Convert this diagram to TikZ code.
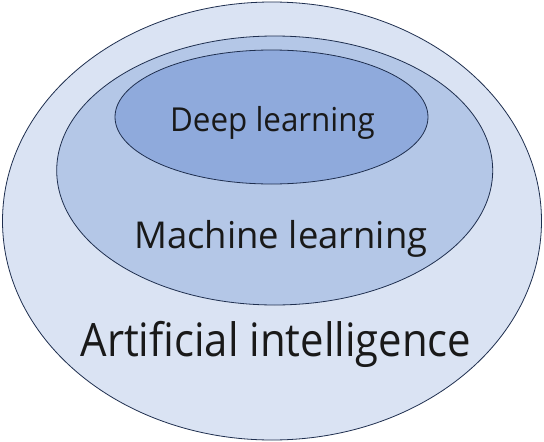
\documentclass[tikz,border=0pt]{standalone}
\usepackage{fontspec}
\setmainfont{Open Sans}
\definecolor{aiC}{HTML}{DAE3F3}
\definecolor{mlC}{HTML}{B4C7E7}
\definecolor{dlC}{HTML}{8FAADC}
\definecolor{edgeC}{HTML}{1F2F4F}
\tikzset{ring/.style={draw=edgeC,line width=0.8pt},
lbl/.style={text=black!90,inner sep=0pt,anchor=base}}
\begin{document}
\begin{tikzpicture}[x=1pt,y=-1pt]
\useasboundingbox (0,0) rectangle (544,442);
\fill[white] (0,0) rectangle (544,442);
\draw[ring,fill=aiC] (272,221) ellipse [x radius=269.5,y radius=219];
\draw[ring,fill=mlC] (274.7,170.5) ellipse [x radius=218,y radius=134.5];
\draw[ring,fill=dlC] (271.5,117) ellipse [x radius=156.5,y radius=67];
\node[lbl,font=\fontsize{33}{36}\selectfont] (dl) at (272.5,131.7) {\scalebox{0.95}[1]{Deep learning}};
\node[lbl,font=\fontsize{37}{40}\selectfont] (ml) at (281,248.3) {\scalebox{0.985}[1]{Machine learning}};
\node[lbl,font=\fontsize{46}{50}\selectfont] (ai) at (276,356.7) {\scalebox{0.91}[1]{Artificial intelligence}};
\end{tikzpicture}
\end{document}
